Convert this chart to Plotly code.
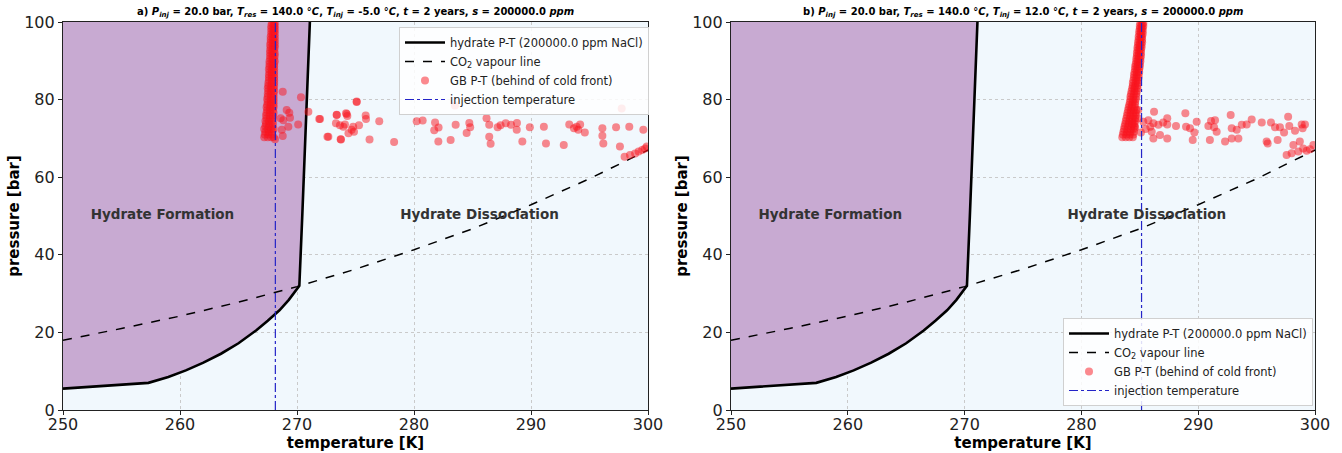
import plotly.graph_objects as go

# ---------------- data ----------------
hyd_T = [250.0, 257.3, 259.0, 260.5, 262.0, 263.5, 265.0, 266.5, 267.5, 268.5, 269.3, 269.8, 270.2, 270.45, 270.75, 271.1]
hyd_P = [5.5, 7.0, 8.5, 10.2, 12.2, 14.5, 17.2, 20.5, 23.0, 25.7, 28.4, 30.5, 32.0, 50.0, 75.0, 100.0]

co2_T = [250, 255, 260, 265, 270, 275, 280, 285, 290, 295, 300]
co2_P = [18.0, 21.0, 24.2, 27.8, 31.8, 36.3, 41.3, 46.7, 52.9, 59.6, 67.0]

inj_T_a = 268.15   # -5.0 degC
inj_T_b = 285.15   # 12.0 degC
P_range = [0, 100]

# pressure rows of the dense GB P-T bands (both panels)
band_P_rows = [70.3, 71.0, 71.7, 72.4, 73.1, 73.8, 74.5, 75.2, 75.9, 76.6, 77.3, 78.0, 78.7, 79.4,
               80.1, 80.8, 81.5, 82.2, 82.9, 83.6, 84.3, 85.0, 85.7, 86.4, 87.1, 87.8, 88.5, 89.2,
               89.9, 90.6, 91.3, 92.0, 92.7, 93.4, 94.1, 94.8, 95.5, 96.2, 96.9, 97.6, 98.3, 99.0, 99.7]

# panel a) temperatures of the dense band, one list per pressure row
band_a_T_rows = [
    [267.2, 267.5, 267.8, 268.0], [267.25, 267.55, 267.85], [267.3, 267.6, 267.9],
    [267.2, 267.5, 267.8, 268.0], [267.3, 267.6, 267.9], [267.35, 267.65, 267.95],
    [267.3, 267.6, 267.9], [267.4, 267.7, 267.95], [267.35, 267.65, 267.95],
    [267.4, 267.7, 268.0], [267.45, 267.7, 267.95], [267.4, 267.7, 268.0],
    [267.45, 267.75, 268.0], [267.5, 267.75, 268.0], [267.45, 267.75, 268.0],
    [267.5, 267.8, 268.0], [267.5, 267.75, 268.0], [267.55, 267.8, 268.05],
    [267.5, 267.8, 268.0], [267.55, 267.8, 268.05], [267.55, 267.85, 268.05],
    [267.6, 267.85, 268.05], [267.6, 267.85, 268.05], [267.6, 267.85, 268.05],
    [267.65, 267.85, 268.05], [267.6, 267.85, 268.05], [267.65, 267.9, 268.05],
    [267.65, 267.9, 268.05], [267.65, 267.9, 268.1], [267.7, 267.9, 268.05],
    [267.7, 267.9, 268.1], [267.7, 267.9, 268.1], [267.7, 267.9, 268.05],
    [267.75, 267.95, 268.1], [267.7, 267.95, 268.1], [267.75, 267.95, 268.1],
    [267.75, 267.95, 268.1], [267.75, 267.95, 268.1], [267.8, 267.95, 268.1],
    [267.8, 268.0, 268.1], [267.8, 268.0, 268.1], [267.8, 268.0, 268.1],
    [267.85, 268.0, 268.1],
]

# panel b) temperatures of the dense diagonal band, one list per pressure row
band_b_T_rows = [
    [283.5, 283.8, 284.1, 284.4], [283.55, 283.85, 284.15, 284.45], [283.6, 283.9, 284.2, 284.5],
    [283.65, 283.95, 284.25, 284.5], [283.7, 284.0, 284.3, 284.55], [283.75, 284.05, 284.35, 284.55],
    [283.8, 284.1, 284.35, 284.6], [283.85, 284.15, 284.4, 284.6], [283.9, 284.2, 284.45, 284.65],
    [283.95, 284.2, 284.45, 284.65], [284.0, 284.25, 284.5, 284.7], [284.05, 284.3, 284.55],
    [284.1, 284.35, 284.6], [284.15, 284.4, 284.6], [284.2, 284.45, 284.65],
    [284.2, 284.45, 284.7], [284.25, 284.5, 284.7], [284.3, 284.55, 284.75],
    [284.35, 284.55, 284.8], [284.4, 284.6, 284.8], [284.4, 284.65, 284.85],
    [284.45, 284.7, 284.85], [284.5, 284.7, 284.9], [284.5, 284.75, 284.9],
    [284.55, 284.75, 284.95], [284.6, 284.8, 284.95], [284.6, 284.8, 285.0],
    [284.65, 284.85, 285.0], [284.7, 284.85, 285.05], [284.7, 284.9, 285.05],
    [284.75, 284.9, 285.1], [284.75, 284.95, 285.1], [284.8, 284.95, 285.1],
    [284.8, 285.0, 285.15], [284.85, 285.0, 285.15], [284.85, 285.05, 285.2],
    [284.9, 285.05, 285.2], [284.9, 285.1, 285.2], [284.95, 285.1, 285.25],
    [284.95, 285.1, 285.25], [285.0, 285.15, 285.25], [285.0, 285.15, 285.3],
    [285.05, 285.2, 285.3],
]

# panel a) scattered GB P-T points
scat_a_T = [268.78, 270.34, 269.12, 269.34, 269.4, 268.6, 268.83, 269.26, 270.1, 268.7, 268.78, 268.12,
            270.97, 271.9, 272.6, 273.73, 273.4, 274.25, 275.1,
            271.97, 273.39, 274.19, 274.3, 275.1, 275.87, 275.9, 273.33, 273.67, 273.96, 274.1,
            274.8, 275.3, 274.67, 274.4, 274.87, 272.68, 273.76, 276.2, 277.03, 278.3,
            280.23, 280.74, 281.8, 281.73, 282.1, 282.08, 283.13, 283.5, 283.56, 284.5,
            284.73, 284.8, 286.2, 286.43, 286.43, 286.55, 287.15, 287.4, 287.84, 288.29,
            288.8, 288.78, 289.26, 289.9, 291.1, 291.28, 292.8, 293.27, 293.67, 293.9,
            294.2, 294.04, 294.6, 296.1, 296.1, 296.18, 297.27, 297.75, 298.4, 299.6,
            297.6, 298.0, 298.46, 298.9, 299.2, 299.5, 299.74, 299.9]
scat_a_P = [82.0, 80.6, 77.3, 76.6, 75.3, 75.2, 74.7, 73.0, 73.6, 72.2, 70.6, 69.8,
            76.9, 75.0, 70.4, 69.8, 76.0, 76.3, 79.5,
            75.0, 76.1, 76.5, 75.8, 79.4, 75.9, 75.0, 73.9, 73.4, 73.0, 73.6,
            73.0, 73.4, 72.2, 71.3, 71.7, 70.4, 69.7, 69.7, 74.4, 69.1,
            74.4, 74.6, 74.1, 72.1, 72.8, 69.2, 69.6, 78.5, 73.5, 71.4,
            74.0, 72.9, 75.2, 73.5, 70.4, 68.6, 72.9, 73.4, 73.9, 73.5,
            74.0, 72.2, 69.2, 72.9, 73.0, 68.7, 68.3, 73.6, 72.6, 73.0,
            73.6, 72.2, 71.5, 72.6, 70.7, 68.7, 72.9, 77.7, 73.0, 72.2,
            67.9, 65.3, 65.7, 66.1, 66.6, 67.0, 67.4, 67.9]

# panel b) scattered GB P-T points
scat_b_T = [284.87, 286.22, 284.87, 285.3, 285.73, 286.16, 286.59, 287.0, 287.35, 287.35,
            286.02, 286.73, 286.16, 287.35, 288.1, 288.9, 288.96, 289.3, 289.67, 289.87,
            289.53, 290.87, 291.1, 291.44, 291.36, 291.58, 291.0, 292.78, 292.87, 293.3,
            293.73, 294.15, 294.58, 292.87, 292.3, 293.44, 295.44, 296.23, 296.58, 297.0,
            297.7, 297.8, 297.35, 298.29, 298.86, 299.14, 298.94, 295.86, 295.95, 296.8,
            298.7, 298.15, 298.57, 297.57, 298.0, 298.99, 299.29, 299.57, 299.86,
            284.6, 285.1, 285.5, 284.4, 285.9]
scat_b_P = [77.3, 76.9, 75.2, 74.3, 74.7, 73.9, 73.5, 74.1, 75.2, 73.6,
            71.7, 70.9, 70.0, 70.0, 73.2, 76.5, 73.0, 72.6, 71.5, 74.3,
            69.6, 73.2, 74.5, 74.7, 72.9, 71.7, 69.6, 76.0, 72.6, 72.2,
            73.5, 73.6, 74.9, 70.0, 69.2, 70.0, 74.1, 74.1, 72.9, 72.9,
            75.6, 73.2, 71.5, 72.0, 73.6, 73.6, 72.6, 69.2, 68.7, 69.6,
            69.2, 68.3, 66.6, 65.7, 66.2, 67.4, 66.8, 67.2, 68.3,
            72.8, 71.5, 72.4, 73.8, 73.0]

x_ticks = [250, 260, 270, 280, 290, 300]
y_ticks = [0, 20, 40, 60, 80, 100]
label_form = "Hydrate Formation"
label_diss = "Hydrate Dissociation"
label_pos_T = [258.5, 285.6]
label_pos_P = [50.0, 50.0]

titles = [
    "<b>a) <i>P</i><sub><i>inj</i></sub> = 20.0 bar, <i>T</i><sub><i>res</i></sub> = 140.0 <i>°C</i>, "
    "<i>T</i><sub><i>inj</i></sub> = -5.0 <i>°C</i>, <i>t</i> = 2 years, <i>s</i> = 200000.0 <i>ppm</i></b>",
    "<b>b) <i>P</i><sub><i>inj</i></sub> = 20.0 bar, <i>T</i><sub><i>res</i></sub> = 140.0 <i>°C</i>, "
    "<i>T</i><sub><i>inj</i></sub> = 12.0 <i>°C</i>, <i>t</i> = 2 years, <i>s</i> = 200000.0 <i>ppm</i></b>",
]


def flatten_band(rows):
    T = [t for row in rows for t in row]
    P = [p for p, row in zip(band_P_rows, rows) for _ in row]
    return T, P


band_a_T, band_a_P = flatten_band(band_a_T_rows)
band_b_T, band_b_P = flatten_band(band_b_T_rows)

# ---------------- styling ----------------
W, H = 1342, 453
FONT = "DejaVu Sans"
PURPLE = "#C8AAD2"
BG = "#F1F8FD"
RED = "rgba(250,20,30,0.5)"
INJ_COLOR = "#2424C8"

x_dom = [[63 / W, 648 / W], [731 / W, 1315 / W]]
y_dom = [1 - 410 / H, 1 - 22 / H]

fig = go.Figure()

panels = [
    (inj_T_a, band_a_T, band_a_P, scat_a_T, scat_a_P, "legend"),
    (inj_T_b, band_b_T, band_b_P, scat_b_T, scat_b_P, "legend2"),
]

for i, (inj_T, bT, bP, sT, sP, leg) in enumerate(panels):
    xa = "x" if i == 0 else "x2"
    ya = "y" if i == 0 else "y2"
    # formation region (left of / above the hydrate curve)
    fig.add_trace(go.Scatter(
        x=hyd_T + [hyd_T[0]], y=hyd_P + [hyd_P[-1]],
        fill="toself", fillcolor=PURPLE, line=dict(width=0),
        mode="lines", hoverinfo="skip", showlegend=False, xaxis=xa, yaxis=ya))
    # hydrate curve
    fig.add_trace(go.Scatter(
        x=hyd_T, y=hyd_P, mode="lines", line=dict(color="black", width=2.6),
        name="hydrate P-T (200000.0 ppm NaCl)", legend=leg, xaxis=xa, yaxis=ya))
    # CO2 vapour line
    fig.add_trace(go.Scatter(
        x=co2_T, y=co2_P, mode="lines", line=dict(color="black", width=1.5, dash="dash"),
        name="CO<sub>2</sub> vapour line", legend=leg, xaxis=xa, yaxis=ya))
    # GB P-T points
    fig.add_trace(go.Scatter(
        x=bT + sT, y=bP + sP, mode="markers",
        marker=dict(color=RED, size=8, line=dict(width=0)),
        name="GB P-T (behind of cold front)", legend=leg, xaxis=xa, yaxis=ya))
    # injection temperature
    fig.add_trace(go.Scatter(
        x=[inj_T, inj_T], y=P_range, mode="lines",
        line=dict(color=INJ_COLOR, width=1.2, dash="dashdot"),
        name="injection temperature", legend=leg, xaxis=xa, yaxis=ya))
    # region labels
    fig.add_trace(go.Scatter(
        x=label_pos_T, y=label_pos_P, mode="text",
        text=[f"<b>{label_form}</b>", f"<b>{label_diss}</b>"],
        textfont=dict(family=FONT, size=13.5, color="#333333"),
        showlegend=False, hoverinfo="skip", xaxis=xa, yaxis=ya))
    # title
    fig.add_annotation(
        text=titles[i], xref="paper", yref="paper",
        x=(x_dom[i][0] + x_dom[i][1]) / 2, y=1 - 12 / H,
        xanchor="center", yanchor="middle", showarrow=False,
        font=dict(family=FONT, size=10, color="black"))

axis_common = dict(
    showline=True, linecolor="#222222", linewidth=1.2, mirror=True,
    ticks="outside", ticklen=4, tickcolor="#222222",
    tickfont=dict(family=FONT, size=16, color="#222222"),
    showgrid=True, gridcolor="#CACACA", griddash="dot", gridwidth=1,
    zeroline=False, automargin=False,
)

for i in range(2):
    sfx = "" if i == 0 else "2"
    fig.update_layout(**{
        f"xaxis{sfx}": dict(
            domain=x_dom[i], range=[250, 300], tickvals=x_ticks, anchor=f"y{sfx}",
            ticklabelstandoff=-4,
            title=dict(text="<b>temperature [K]</b>", font=dict(family=FONT, size=15, color="black"), standoff=4),
            **axis_common),
        f"yaxis{sfx}": dict(
            domain=y_dom, range=[0, 100], tickvals=y_ticks, anchor=f"x{sfx}",
            title=dict(text="<b>pressure [bar]</b>", font=dict(family=FONT, size=15, color="black"), standoff=0),
            **axis_common),
    })

legend_common = dict(
    font=dict(family=FONT, size=11.5, color="#222222"),
    bgcolor="rgba(255,255,255,0.85)", bordercolor="#D0D0D0", borderwidth=1,
    tracegroupgap=0, itemwidth=40,
)
fig.update_layout(
    width=W, height=H,
    margin=dict(l=0, r=0, t=0, b=0, autoexpand=False),
    paper_bgcolor="white", plot_bgcolor=BG,
    font=dict(family=FONT),
    legend=dict(x=649 / W, y=1 - 27 / H, xanchor="right", yanchor="top", **legend_common),
    legend2=dict(x=1313 / W, y=1 - 406 / H, xanchor="right", yanchor="bottom", **legend_common),
)

fig.write_html("out.html")
